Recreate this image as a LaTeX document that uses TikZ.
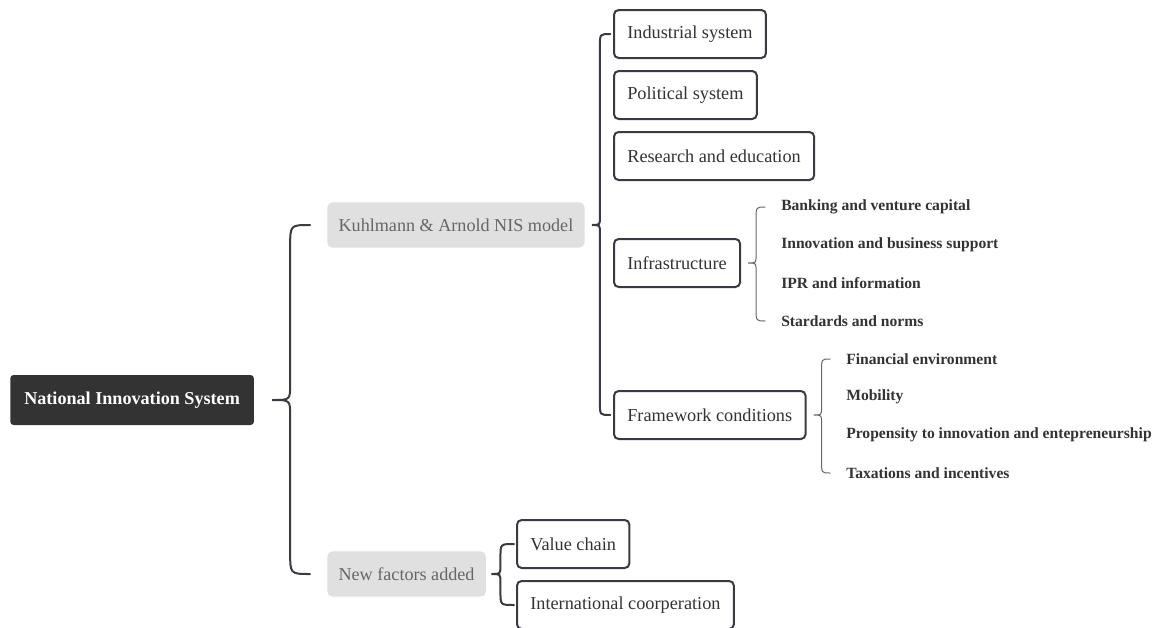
\documentclass[tikz,border=0pt]{standalone}
\usepackage{fontspec}
\setmainfont{Liberation Serif}
\usetikzlibrary{positioning,calc}
\definecolor{darkbox}{RGB}{51,51,51}
\definecolor{edgegray}{RGB}{58,58,70}
\definecolor{boxgray}{RGB}{224,224,224}
\definecolor{textgray}{RGB}{102,102,102}
\tikzset{
    root/.style={fill=darkbox, text=white, font=\bfseries\fontsize{13.6}{16}\selectfont,
        rounded corners=2.5pt, minimum height=37.5pt, inner xsep=10.5pt, anchor=west},
    mainbox/.style={fill=boxgray, text=textgray, font=\fontsize{13.6}{16}\selectfont,
        rounded corners=4pt, minimum height=34pt, inner xsep=8.5pt, anchor=west},
    subbox/.style={draw=edgegray, line width=1.5pt, fill=white, text=darkbox,
        font=\fontsize{13.7}{16}\selectfont, rounded corners=3.5pt,
        minimum height=36pt, inner xsep=10pt, anchor=west},
    leaf/.style={text=darkbox, font=\bfseries\fontsize{11.7}{14}\selectfont,
        inner sep=0pt, anchor=west},
    bigbrace/.style={draw=edgegray, line width=1.5pt, line cap=round},
    smallbrace/.style={draw=textgray, line width=0.75pt, line cap=round}
}
% brace: parent, top child, bottom child, tip gap, bar gap, end gap
\newcommand{\nisbrace}[7][bigbrace]{%
    \draw[#1] let \p1=(#2.east), \p2=(#3.west), \p3=(#4.west),
        \n1={\x1+#5}, \n2={\n1+#6}, \n3={#6+3pt}, \n4={0.8*#6+1pt} in
        (\x2-#7,\y2) .. controls (\n2,\y2) .. (\n2,\y2-\n3)
        -- (\n2,\y1+\n4) .. controls (\n2,\y1) .. (\n1,\y1)
        .. controls (\n2,\y1) .. (\n2,\y1-\n4)
        -- (\n2,\y3+\n3) .. controls (\n2,\y3) .. (\x3-#7,\y3);}

\begin{document}
\begin{tikzpicture}[x=0.75pt, y=-0.75pt]
    \useasboundingbox[fill=white] (0,0) rectangle (1160,628);

    \node[root] (nis) at (10,400) {National Innovation System};

    \node[mainbox] (kuhl) at (327,225) {Kuhlmann \& Arnold NIS model};
    \node[mainbox] (newf) at (327,574) {New factors added};

    \node[subbox] (ind) at (613,34) {Industrial system};
    \node[subbox] (pol) at (613,95) {Political system};
    \node[subbox] (res) at (613,156) {Research and education};
    \node[subbox] (infra) at (613,263) {Infrastructure};
    \node[subbox] (frame) at (613,415) {Framework conditions};

    \node[leaf] (bank) at (781,207) {Banking and venture capital};
    \node[leaf] (supp) at (781,245) {Innovation and business support};
    \node[leaf] (ipr) at (781,283) {IPR and information};
    \node[leaf] (norm) at (781,321) {Stardards and norms};

    \node[leaf] (fin) at (846,359) {Financial environment};
    \node[leaf] (mob) at (846,397) {Mobility};
    \node[leaf] (prop) at (846,435) {Propensity to innovation and entepreneurship};
    \node[leaf] (tax) at (846,473) {Taxations and incentives};

    \node[subbox] (value) at (516,544) {Value chain};
    \node[subbox] (coop) at (516,605) {International coorperation};

    \nisbrace{nis}{kuhl}{newf}{13.5pt}{13.5pt}{12.75pt}
    \nisbrace{kuhl}{ind}{frame}{5.25pt}{6pt}{2pt}
    \nisbrace[smallbrace]{infra}{bank}{norm}{5.25pt}{6pt}{12pt}
    \nisbrace[smallbrace]{frame}{fin}{tax}{5.25pt}{6pt}{12pt}
    \nisbrace{newf}{value}{coop}{4pt}{6.75pt}{1.5pt}
\end{tikzpicture}
\end{document}
